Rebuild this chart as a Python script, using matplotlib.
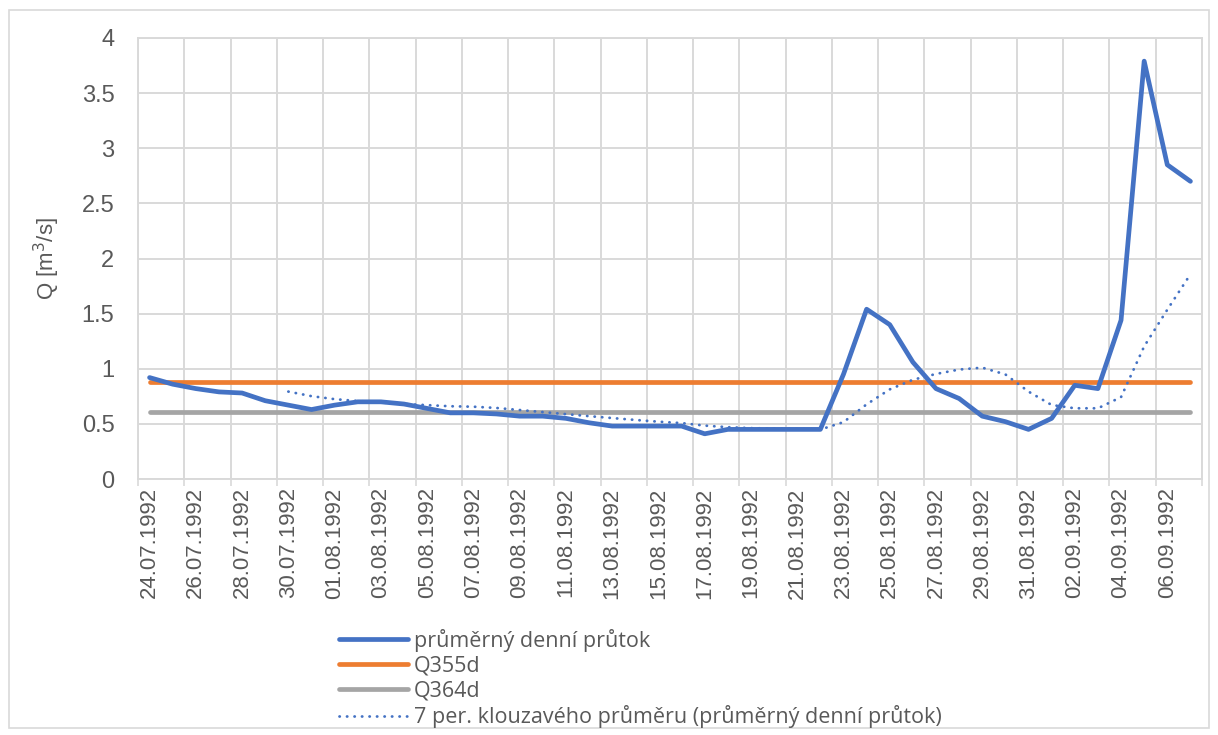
import matplotlib
matplotlib.use("Agg")
import matplotlib.pyplot as plt
from matplotlib.patches import Rectangle
import numpy as np
import pandas as pd

# daily discharge 24.07.1992 - 07.09.1992
dates = pd.date_range("1992-07-24", "1992-09-07", freq="D")
labels = [d.strftime("%d.%m.%Y") for d in dates]

q_daily = [0.92, 0.86, 0.82, 0.79, 0.78, 0.71, 0.67, 0.63, 0.67, 0.70,
           0.70, 0.68, 0.64, 0.60, 0.60, 0.59, 0.57, 0.57, 0.55, 0.51,
           0.48, 0.48, 0.48, 0.48, 0.41, 0.45, 0.45, 0.45, 0.45, 0.45,
           0.95, 1.54, 1.40, 1.06, 0.82, 0.73, 0.57, 0.52, 0.45, 0.55,
           0.85, 0.82, 1.44, 3.79, 2.85, 2.70]
q355d = 0.88
q364d = 0.61
window = 7

BLUE = "#4472C4"
ORANGE = "#ED7D31"
GRAY = "#A5A5A5"
GRID = "#D9D9D9"
TXT = "#595959"

x = np.arange(len(dates))
q = pd.Series(q_daily)
ma = q.rolling(window).mean()

plt.rcParams["font.family"] = ["Liberation Sans", "DejaVu Sans"]

fig = plt.figure(figsize=(12.18, 7.35), dpi=100)
fig.patches.append(Rectangle((9 / 1218, 7 / 735), 1200 / 1218, 718 / 735,
                             transform=fig.transFigure, fill=False,
                             edgecolor=GRID, linewidth=1.2))
ax = fig.add_axes([138 / 1218, 1 - 479 / 735, 1064 / 1218, 441 / 735])

l1, = ax.plot(x, q, color=BLUE, lw=3.4, solid_capstyle="round",
              solid_joinstyle="round", zorder=4)
l2, = ax.plot(x, [q355d] * len(x), color=ORANGE, lw=3.4,
              solid_capstyle="round", zorder=3)
l3, = ax.plot(x, [q364d] * len(x), color=GRAY, lw=3.4,
              solid_capstyle="round", zorder=3)
l4, = ax.plot(x, ma, color=BLUE, lw=2.0, linestyle=(0, (0.1, 2.6)),
              dash_capstyle="round", zorder=5)

ax.set_xlim(-0.5, len(x) - 0.5)
ax.set_ylim(0, 4)
ax.set_yticks(np.arange(0, 4.01, 0.5))
ax.set_yticklabels(["0", "0.5", "1", "1.5", "2", "2.5", "3", "3.5", "4"])

# gridlines/ticks between categories, labels on every second day
ax.set_xticks(np.arange(-0.5, len(x), 2))
ax.set_xticklabels([])
ax.set_xticks(x[::2], minor=True)
ax.set_xticklabels(labels[::2], minor=True, rotation=90)
ax.tick_params(axis="x", which="major", length=5, width=1.2, color=GRID)
ax.tick_params(axis="x", which="minor", length=0, pad=6, labelsize=16,
               labelcolor=TXT)
ax.tick_params(axis="y", length=0, pad=17, labelsize=17, labelcolor=TXT)

ax.grid(True, which="major", color=GRID, linewidth=1.4)
ax.set_axisbelow(True)
for s in ax.spines.values():
    s.set_color(GRID)
    s.set_linewidth(1.4)

ax.set_ylabel("Q [m$^3$/s]", fontsize=16, color=TXT)
ax.yaxis.set_label_coords(-0.071, 0.5)

fig.legend([l1, l2, l3, l4],
           ["průměrný denní průtok", "Q355d", "Q364d",
            "7 per. klouzavého průměru (průměrný denní průtok)"],
           loc="upper left", bbox_to_anchor=(330 / 1218, 1 - 620 / 735),
           frameon=False, handlelength=3.2, handletextpad=0.3,
           labelspacing=0.18, borderaxespad=0,
           prop={"family": ["Open Sans", "DejaVu Sans"], "size": 15.5},
           labelcolor=TXT)

fig.savefig("out.png", dpi=100)
